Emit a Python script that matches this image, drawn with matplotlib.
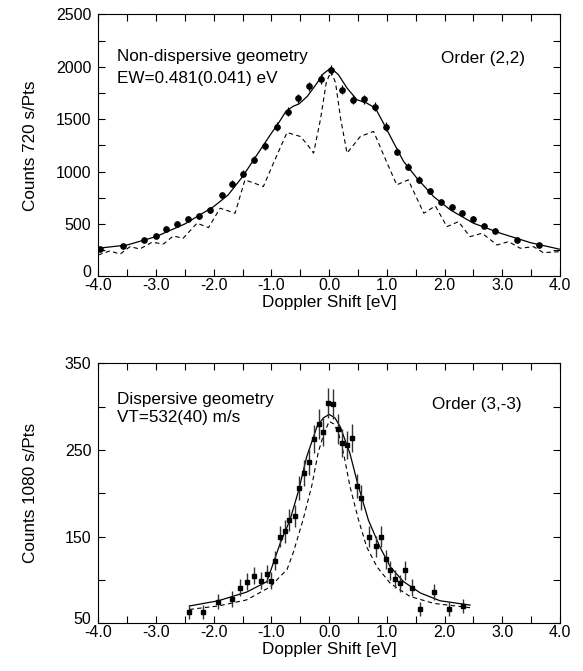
import numpy as np
import matplotlib
matplotlib.use("Agg")
import matplotlib.pyplot as plt
import matplotlib.transforms as mtransforms
from matplotlib.ticker import MultipleLocator, FormatStrFormatter

plt.rcParams['font.family'] = ['Liberation Sans', 'DejaVu Sans']

# ---- top panel: non-dispersive geometry, order (2,2)
top_x = [-3.97, -3.58, -3.20, -3.00, -2.82, -2.63, -2.44, -2.25, -2.06, -1.86,
         -1.68, -1.49, -1.30, -1.11, -0.91, -0.72, -0.54, -0.35, -0.15, 0.03,
         0.22, 0.41, 0.61, 0.79, 0.98, 1.17, 1.36, 1.55, 1.74, 1.93,
         2.13, 2.31, 2.50, 2.69, 2.88, 3.26, 3.64]
top_y = [258, 290, 347, 388, 449, 503, 548, 576, 634, 774,
         885, 978, 1112, 1246, 1430, 1571, 1698, 1813, 1883, 1972,
         1781, 1686, 1688, 1621, 1430, 1191, 1048, 924, 815, 710,
         665, 602, 548, 481, 436, 350, 296]
top_err = [20, 20, 22, 22, 24, 25, 25, 26, 27, 30,
           32, 33, 35, 37, 40, 42, 44, 45, 46, 47,
           45, 44, 44, 43, 40, 37, 35, 32, 30, 28,
           27, 26, 25, 24, 22, 20, 20]

top_fit_x = [-4.0, -3.5, -3.0, -2.5, -2.0, -1.75, -1.5, -1.25, -1.0, -0.86,
             -0.75, -0.63, -0.52, -0.38, -0.21, -0.10, 0.03, 0.16, 0.31, 0.48,
             0.65, 0.80, 0.94, 1.12, 1.29, 1.52, 1.81, 2.10, 2.50, 2.97,
             3.49, 4.0]
top_fit_y = [268, 299, 379, 500, 666, 777, 952, 1160, 1367, 1478,
             1574, 1621, 1647, 1717, 1845, 1934, 1989, 1925, 1797, 1686,
             1654, 1606, 1463, 1272, 1096, 937, 761, 634, 507, 411,
             321, 258]

top_ref_x = [-4.0, -3.80, -3.62, -3.45, -3.28, -3.07, -2.87, -2.70, -2.53, -2.29,
             -2.09, -1.89, -1.75, -1.63, -1.46, -1.30, -1.14, -0.95, -0.73, -0.50,
             -0.38, -0.27, -0.15, -0.05, 0.03, 0.11, 0.20, 0.31, 0.54, 0.77,
             0.95, 1.17, 1.37, 1.64, 1.84, 2.04, 2.24, 2.44, 2.65, 2.91,
             3.11, 3.31, 3.54, 3.71, 4.0]
top_ref_y = [204, 242, 213, 283, 261, 325, 309, 385, 363, 507,
             465, 650, 625, 602, 920, 890, 857, 1100, 1373, 1335,
             1260, 1176, 1500, 1850, 1956, 1850, 1500, 1176, 1335, 1383,
             1150, 873, 921, 602, 672, 474, 522, 379, 411, 299,
             331, 268, 283, 226, 235]

# ---- bottom panel: dispersive geometry, order (3,-3)
bot_x = [-2.42, -2.18, -1.92, -1.68, -1.54, -1.43, -1.30, -1.18, -1.08, -1.01,
         -0.94, -0.85, -0.76, -0.69, -0.60, -0.52, -0.43, -0.35, -0.27, -0.18,
         -0.10, -0.02, 0.06, 0.15, 0.23, 0.31, 0.39, 0.48, 0.55, 0.69,
         0.81, 0.90, 0.98, 1.06, 1.14, 1.23, 1.32, 1.44, 1.57, 1.81,
         2.07, 2.32]
bot_y = [63, 63, 75, 78, 91, 98, 105, 99, 107, 99,
         122, 150, 156, 169, 174, 206, 223, 236, 263, 280,
         271, 304, 303, 274, 258, 256, 264, 208, 195, 150,
         139, 150, 124, 111, 101, 96, 111, 91, 66, 86,
         66, 70]
bot_err = [8, 8, 9, 9, 10, 10, 10, 10, 10, 10,
           11, 12, 13, 13, 13, 14, 15, 15, 16, 17,
           16, 17, 17, 17, 16, 16, 16, 14, 14, 12,
           12, 12, 11, 11, 10, 10, 11, 10, 8, 9,
           8, 8]

bot_fit_x = [-2.42, -1.92, -1.43, -1.08, -0.97, -0.85, -0.68, -0.53, -0.39, -0.21,
             -0.10, 0.0, 0.10, 0.19, 0.36, 0.49, 0.68, 0.88, 1.06, 1.29,
             1.58, 1.92, 2.44]
bot_fit_y = [70, 76, 86, 98, 119, 142, 169, 203, 242, 277,
             287, 291, 287, 277, 246, 212, 169, 138, 115, 98,
             85, 76, 71]

bot_ref_x = [-2.42, -1.92, -1.43, -1.02, -0.85, -0.73, -0.62, -0.45, -0.30, -0.19,
             -0.10, 0.0, 0.08, 0.16, 0.25, 0.36, 0.51, 0.65, 0.83, 1.06,
             1.40, 1.81, 2.44]
bot_ref_y = [66, 70, 77, 92, 104, 112, 132, 170, 209, 247,
             267, 283, 280, 270, 246, 208, 169, 138, 115, 96,
             81, 73, 68]

fig = plt.figure(figsize=(5.83, 6.71), dpi=100)
ax1 = fig.add_axes([0.1686, 0.5882, 0.792, 0.3903])
ax2 = fig.add_axes([0.1686, 0.0711, 0.792, 0.3875])

fs = 11.5   # tick labels
ft = 12.3   # annotations and axis labels

ax1.plot(top_ref_x, top_ref_y, color='black', lw=0.8, dashes=(4, 3))
ax1.plot(top_fit_x, top_fit_y, color='black', lw=0.9)
ax1.errorbar(top_x, top_y, yerr=top_err, fmt='o', color='black', ms=3.8,
             elinewidth=0.9, capsize=0)
ax1.set_xlim(-4, 4)
ax1.set_ylim(0, 2500)
ax1.set_yticks([0, 500, 1000, 1500, 2000, 2500])
ax1.yaxis.set_minor_locator(MultipleLocator(250))
ax1.set_ylabel('Counts 720 s/Pts', fontsize=ft)
ax1.text(0.04, 0.841, 'Non-dispersive geometry', transform=ax1.transAxes, fontsize=ft, va='center')
ax1.text(0.04, 0.757, 'EW=0.481(0.041) eV', transform=ax1.transAxes, fontsize=ft, va='center')
ax1.text(0.743, 0.833, 'Order (2,2)', transform=ax1.transAxes, fontsize=ft, va='center')

ax2.plot(bot_ref_x, bot_ref_y, color='black', lw=0.8, dashes=(4, 3))
ax2.plot(bot_fit_x, bot_fit_y, color='black', lw=0.9)
ax2.errorbar(bot_x, bot_y, yerr=bot_err, fmt='s', color='black', ms=3.2,
             elinewidth=1.0, ecolor='#333333', capsize=0)
ax2.set_xlim(-4, 4)
ax2.set_ylim(50, 350)
ax2.set_yticks([50, 150, 250, 350])
ax2.yaxis.set_minor_locator(MultipleLocator(50))
ax2.set_ylabel('Counts 1080 s/Pts', fontsize=ft)
ax2.text(0.04, 0.859, 'Dispersive geometry', transform=ax2.transAxes, fontsize=ft, va='center')
ax2.text(0.04, 0.79, 'VT=532(40) m/s', transform=ax2.transAxes, fontsize=ft, va='center')
ax2.text(0.722, 0.84, 'Order (3,-3)', transform=ax2.transAxes, fontsize=ft, va='center')

for ax in (ax1, ax2):
    ax.xaxis.set_major_locator(MultipleLocator(1.0))
    ax.xaxis.set_minor_locator(MultipleLocator(0.5))
    ax.xaxis.set_major_formatter(FormatStrFormatter('%.1f'))
    ax.set_xlabel('Doppler Shift [eV]', fontsize=ft, labelpad=1)
    ax.yaxis.set_label_coords(-0.13, 0.5)
    ax.tick_params(which='both', direction='in', top=True, right=True, labelsize=fs)
    ax.tick_params(axis='x', pad=1.5)
    ax.tick_params(axis='y', pad=5)
    ax.tick_params(which='major', length=5, width=0.8)
    ax.tick_params(which='minor', length=5, width=0.8)
    for s in ax.spines.values():
        s.set_linewidth(0.8)

# lift the lowest y label a little so it clears the first x label
fig.canvas.draw()
lift = mtransforms.ScaledTranslation(0, 4 / 72, fig.dpi_scale_trans)
for ax in (ax1, ax2):
    lab = ax.get_yticklabels()[0]
    lab.set_transform(lab.get_transform() + lift)

fig.savefig('out.png', dpi=100)
